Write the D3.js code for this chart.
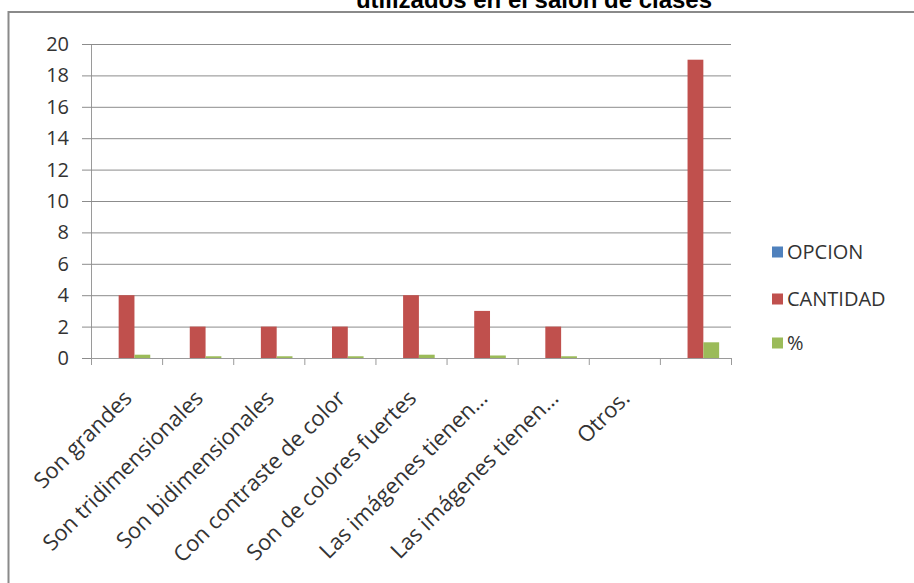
<!DOCTYPE html>
<html>
<head>
<meta charset="utf-8">
<script src="https://cdn.jsdelivr.net/npm/d3@7"></script>
<style>
  html, body { margin: 0; padding: 0; background: #fff; }
  svg { display: block; }
</style>
</head>
<body>
<svg id="chart" width="914" height="583"></svg>
<script>
const title = "utilizados en el salón de clases";
const categories = [
  "Son grandes",
  "Son tridimensionales",
  "Son bidimensionales",
  "Con contraste de color",
  "Son de colores fuertes",
  "Las imágenes tienen…",
  "Las imágenes tienen…",
  "Otros.",
  ""
];
const seriesNames = ["OPCION", "CANTIDAD", "%"];
const opcion   = [0, 0, 0, 0, 0, 0, 0, 0, 0];
const cantidad = [4, 2, 2, 2, 4, 3, 2, 0, 19];
const pct      = [0.21, 0.11, 0.11, 0.11, 0.21, 0.16, 0.11, 0, 1];
const yTicks   = [0, 2, 4, 6, 8, 10, 12, 14, 16, 18, 20];
const colors   = ["#4F81BD", "#C0504D", "#9BBB59"];

const series = [opcion, cantidad, pct];
const svg = d3.select("#chart");
const font = "'Open Sans', sans-serif";

// chart frame
svg.append("rect").attr("x", 8.5).attr("y", 12).attr("width", 920).attr("height", 600)
  .attr("fill", "#fff").attr("stroke", "#8a8a8a").attr("stroke-width", 2);

// title (cut off at the top, as in the reference)
svg.append("text").attr("x", 534).attr("y", 8).attr("text-anchor", "middle")
  .attr("font-family", "'Liberation Sans', Arial, sans-serif").attr("font-weight", "bold")
  .attr("font-size", 24).attr("fill", "#000").text(title);

const x0 = d3.scaleBand().domain(d3.range(categories.length)).range([91, 731]).paddingInner(0).paddingOuter(0);
const y = d3.scaleLinear().domain([0, 20]).range([358, 44]);
const bw = x0.bandwidth() / (series.length + 1.5);
const x1 = d3.scaleBand().domain(d3.range(series.length))
  .range([bw * 0.75, bw * 0.75 + bw * series.length]);

// gridlines + y axis
const yAxis = d3.axisLeft(y).tickValues(yTicks).tickSize(9).tickSizeOuter(0).tickPadding(13);
const gy = svg.append("g").attr("transform", "translate(91,0)").call(yAxis);
gy.select(".domain").attr("stroke", "#9a9a9a");
gy.selectAll(".tick line").attr("stroke", "#8c8c8c");
gy.selectAll(".tick text").attr("font-family", font).attr("font-size", 20).attr("fill", "#333");
const grid = d3.axisLeft(y).tickValues(yTicks).tickSize(-640).tickFormat("");
const gg = svg.append("g").attr("transform", "translate(91,0)").call(grid);
gg.select(".domain").remove();
gg.selectAll(".tick line").attr("stroke", "#8c8c8c");

// bars
const groups = svg.append("g").selectAll("g").data(categories).join("g")
  .attr("transform", (d, i) => `translate(${x0(i)},0)`);
groups.selectAll("rect").data((d, i) => series.map((s, k) => ({ k, v: s[i] }))).join("rect")
  .attr("x", d => x1(d.k)).attr("width", x1.bandwidth())
  .attr("y", d => y(d.v)).attr("height", d => y(0) - y(d.v))
  .attr("fill", d => colors[d.k]);

// x axis
const xAxisScale = d3.scaleLinear().domain([0, categories.length]).range([91, 731]);
const gx = svg.append("g").attr("transform", "translate(0,358)")
  .call(d3.axisBottom(xAxisScale).tickValues(d3.range(categories.length + 1)).tickSize(7).tickFormat(""));
gx.select(".domain").attr("stroke", "#9a9a9a");
gx.selectAll(".tick line").attr("stroke", "#9a9a9a");

svg.append("g").selectAll("text").data(categories).join("text")
  .attr("transform", (d, i) => `translate(${x0(i) + x0.bandwidth() / 2 - 5},388) rotate(-45)`)
  .attr("text-anchor", "end").attr("dy", "0.75em")
  .attr("font-family", font).attr("font-size", 22).attr("fill", "#333")
  .text(d => d);

// legend
const legY = [252, 299, 343];
const leg = svg.append("g").selectAll("g").data(seriesNames).join("g")
  .attr("transform", (d, i) => `translate(772,${legY[i]})`);
leg.append("rect").attr("x", 0).attr("y", -5.5).attr("width", 11).attr("height", 11)
  .attr("fill", (d, i) => colors[i]);
leg.append("text").attr("x", 15).attr("dy", "0.36em")
  .attr("font-family", font).attr("font-size", 20).attr("fill", "#333").text(d => d);
</script>
</body>
</html>
